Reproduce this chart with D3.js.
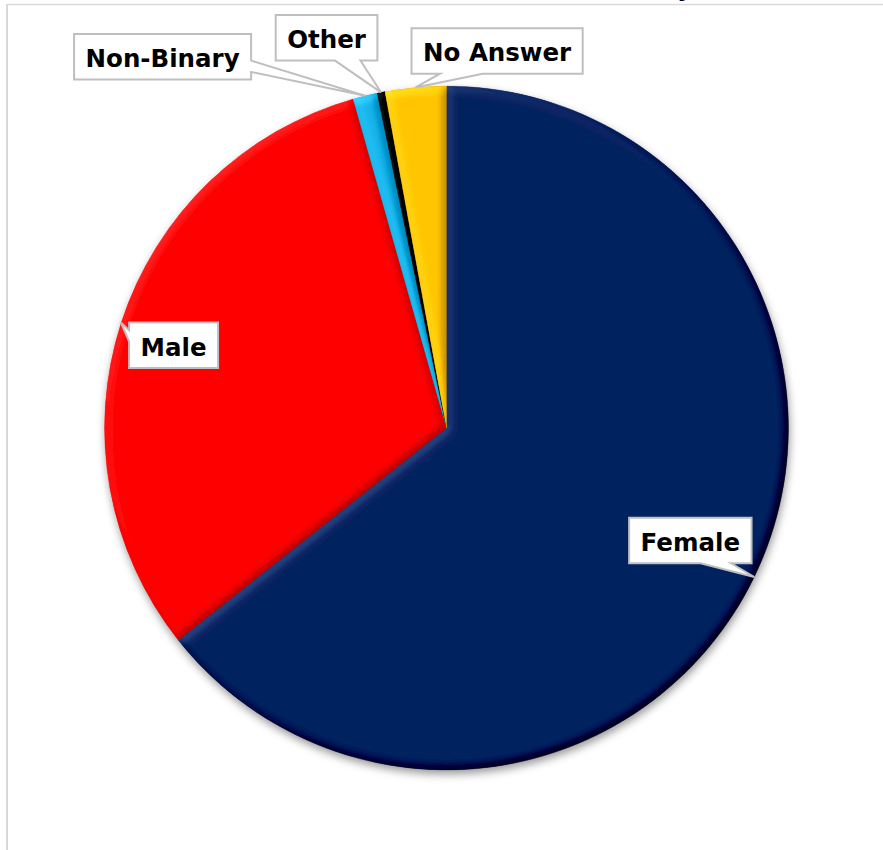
<!DOCTYPE html>
<html>
<head>
<meta charset="utf-8">
<script src="https://cdn.jsdelivr.net/npm/d3@7"></script>
<style>
  html, body { margin: 0; padding: 0; background: #fff; }
  svg { display: block; }
</style>
</head>
<body>
<div id="chart"></div>
<script>
// Share of respondents by gender (percent)
const categories = ["Female", "Male", "Non-Binary", "Other", "No Answer"];
const values = [64.35, 31.25, 1.15, 0.37, 2.88];
const colors = ["#06215f", "#ff0000", "#18b4ea", "#000000", "#ffc600"];
const titleText = "Gender Identity";

// Callout box centre, relative to the point on the rim the callout points at
const labelOffsets = {
  "Female": [-64, -36.5],
  "Male": [52.5, 22.5],
  "Non-Binary": [-202.5, -39],
  "Other": [-54.5, -54.5],
  "No Answer": [81.5, -36.5]
};

const W = 883, H = 850;
const cx = 446.5, cy = 428, R = 342;

const svg = d3.select("#chart").append("svg")
  .attr("width", W).attr("height", H)
  .style("font-family", "'DejaVu Sans', sans-serif");

const defs = svg.append("defs");

// Soft bevel on each slice, lit from the upper left
const bevel = defs.append("filter").attr("id", "bevel")
  .attr("x", "-10%").attr("y", "-10%").attr("width", "120%").attr("height", "120%")
  .attr("color-interpolation-filters", "sRGB");
bevel.append("feGaussianBlur").attr("in", "SourceAlpha").attr("stdDeviation", 4).attr("result", "b");
const dl = bevel.append("feDiffuseLighting").attr("in", "b").attr("surfaceScale", 5)
  .attr("diffuseConstant", 1).attr("lighting-color", "#fff").attr("result", "light");
dl.append("feDistantLight").attr("azimuth", 225).attr("elevation", 45);
bevel.append("feComposite").attr("in", "SourceGraphic").attr("in2", "light")
  .attr("operator", "arithmetic").attr("k1", 0).attr("k2", 1).attr("k3", 0.38).attr("k4", -0.269)
  .attr("result", "lit");
bevel.append("feComposite").attr("in", "lit").attr("in2", "SourceAlpha").attr("operator", "in");

// Shadow under the whole pie
const shadow = defs.append("filter").attr("id", "shadow")
  .attr("x", "-10%").attr("y", "-10%").attr("width", "120%").attr("height", "125%");
shadow.append("feDropShadow").attr("dx", 1).attr("dy", 4).attr("stdDeviation", 4)
  .attr("flood-color", "#000").attr("flood-opacity", 0.4);

svg.append("rect").attr("width", W).attr("height", H).attr("fill", "#fff");

// Chart frame
svg.append("line").attr("x1", 7).attr("x2", W).attr("y1", 4.5).attr("y2", 4.5)
  .attr("stroke", "#d9d9d9").attr("stroke-width", 1.5);
svg.append("line").attr("x1", 7).attr("x2", 7).attr("y1", 4).attr("y2", H)
  .attr("stroke", "#d9d9d9").attr("stroke-width", 2);

// Title (sits above the frame)
svg.append("text").attr("x", 693).attr("y", -4)
  .attr("text-anchor", "end").attr("font-weight", "bold").attr("font-size", 24)
  .attr("fill", "#000").text(titleText);

const color = d3.scaleOrdinal().domain(categories).range(colors);
const data = categories.map((c, i) => ({ name: c, value: values[i] }));

const pie = d3.pie().value(d => d.value).sort(null);
const arcs = pie(data);
const arc = d3.arc().innerRadius(0).outerRadius(R);

const g = svg.append("g").attr("transform", `translate(${cx},${cy})`);
const pieG = g.append("g").attr("filter", "url(#shadow)");
pieG.selectAll("path").data(arcs).join("path")
  .attr("d", arc)
  .attr("fill", d => color(d.data.name))
  .attr("stroke", d => color(d.data.name))
  .attr("stroke-width", 0.6)
  .attr("filter", "url(#bevel)");

// Callout labels
const fontSize = 24.5, boxH = 45.5, padX = 11.5;
const labels = g.append("g");

arcs.forEach(d => {
  const a = (d.startAngle + d.endAngle) / 2;
  const tx = R * Math.sin(a), ty = -R * Math.cos(a);
  const off = labelOffsets[d.data.name];
  const bx = tx + off[0], by = ty + off[1];

  const lg = labels.append("g");
  const path = lg.append("path");
  const text = lg.append("text")
    .attr("x", bx).attr("y", by + 10.5)
    .attr("text-anchor", "middle")
    .attr("font-weight", "bold").attr("font-size", fontSize)
    .attr("fill", "#000").text(d.data.name);

  const tw = text.node().getComputedTextLength();
  const w = tw + 2 * padX, h = boxH;
  const x0 = bx - w / 2, y0 = by - h / 2, x1 = x0 + w, y1 = y0 + h;
  const dx = (tx - bx) / w, dy = (ty - by) / h;

  // rectangle with a wedge toward the rim point
  let pts;
  if (Math.abs(dx) > Math.abs(dy)) {
    const ya = dy < 0 ? y0 + h * 2 / 12 : y0 + h * 7 / 12;
    const yb = dy < 0 ? y0 + h * 5 / 12 : y0 + h * 10 / 12;
    if (dx < 0) {
      pts = [[x0, y0], [x1, y0], [x1, y1], [x0, y1], [x0, yb], [tx, ty], [x0, ya]];
    } else {
      pts = [[x0, y0], [x1, y0], [x1, ya], [tx, ty], [x1, yb], [x1, y1], [x0, y1]];
    }
  } else {
    const xa = dx < 0 ? x0 + w * 2 / 12 : x0 + w * 7 / 12;
    const xb = dx < 0 ? x0 + w * 5 / 12 : x0 + w * 10 / 12;
    if (dy > 0) {
      pts = [[x0, y0], [x1, y0], [x1, y1], [xb, y1], [tx, ty], [xa, y1], [x0, y1]];
    } else {
      pts = [[x0, y0], [xa, y0], [tx, ty], [xb, y0], [x1, y0], [x1, y1], [x0, y1]];
    }
  }
  path.attr("d", "M" + pts.map(p => p.join(",")).join("L") + "Z")
    .attr("fill", "#fff").attr("stroke", "#bfbfbf").attr("stroke-width", 2)
    .attr("stroke-linejoin", "miter");
});
</script>
</body>
</html>
